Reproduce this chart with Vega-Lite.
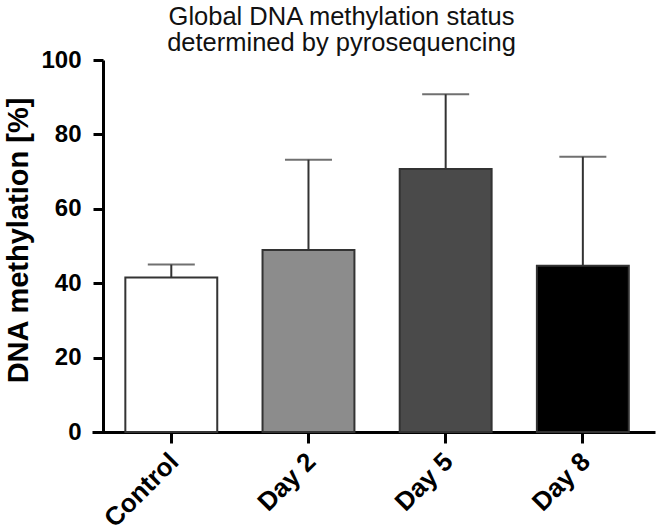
{
  "$schema": "https://vega.github.io/schema/vega-lite/v6.json",
  "autosize": {"type": "none"},
  "padding": {"left": 92, "top": 60, "right": 1, "bottom": 100},
  "width": 563,
  "height": 372,
  "background": "white",
  "title": {
    "text": ["Global DNA methylation status", "determined by pyrosequencing"],
    "font": "Liberation Sans",
    "fontSize": 25.5,
    "fontWeight": "normal",
    "color": "#111111",
    "anchor": "middle",
    "frame": "group",
    "baseline": "bottom",
    "dx": -32,
    "dy": 37,
    "offset": 4,
    "lineHeight": 26
  },
  "config": {
    "view": {"stroke": null},
    "font": "Liberation Sans"
  },
  "data": {
    "values": [
      {"group": "Control", "mean": 41.5, "upper": 45.0},
      {"group": "Day 2", "mean": 48.9, "upper": 73.2},
      {"group": "Day 5", "mean": 70.7, "upper": 90.8},
      {"group": "Day 8", "mean": 44.7, "upper": 74.0}
    ]
  },
  "encoding": {
    "x": {
      "field": "group",
      "type": "nominal",
      "sort": ["Control", "Day 2", "Day 5", "Day 8"],
      "scale": {"paddingInner": 0.33, "paddingOuter": 0.217, "align": 0.56},
      "axis": {
        "title": null,
        "labelAngle": -45,
        "labelFont": "Liberation Sans",
        "labelFontSize": 26,
        "labelFontWeight": "bold",
        "labelColor": "black",
        "labelPadding": 5,
        "labelOffset": -6,
        "domainColor": "black",
        "domainWidth": 3,
        "tickColor": "black",
        "tickWidth": 3,
        "tickSize": 11
      }
    }
  },
  "layer": [
    {
      "mark": {"type": "bar", "stroke": "#333333", "strokeWidth": 2},
      "encoding": {
        "y": {
          "field": "mean",
          "type": "quantitative",
          "scale": {"domain": [0, 100]},
          "axis": {
            "title": "DNA methylation [%]",
            "titleFont": "Liberation Sans",
            "titleFontSize": 29,
            "titleFontWeight": "bold",
            "titleColor": "black",
            "titlePadding": 7,
            "titleY": 180,
            "values": [0, 20, 40, 60, 80, 100],
            "grid": false,
            "offset": -11,
            "labelFont": "Liberation Sans",
            "labelFontSize": 24,
            "labelFontWeight": "bold",
            "labelColor": "black",
            "labelPadding": 12,
            "domainColor": "black",
            "domainWidth": 3,
            "tickColor": "black",
            "tickWidth": 3,
            "tickSize": 10
          }
        },
        "fill": {
          "field": "group",
          "type": "nominal",
          "scale": {
            "domain": ["Control", "Day 2", "Day 5", "Day 8"],
            "range": ["#ffffff", "#8c8c8c", "#4a4a4a", "#000000"]
          },
          "legend": null
        }
      }
    },
    {
      "mark": {"type": "rule", "color": "#333333", "strokeWidth": 2},
      "encoding": {
        "y": {"field": "mean", "type": "quantitative"},
        "y2": {"field": "upper"}
      }
    },
    {
      "mark": {"type": "tick", "color": "#333333", "thickness": 2, "size": 47},
      "encoding": {
        "y": {"field": "upper", "type": "quantitative"}
      }
    }
  ]
}
